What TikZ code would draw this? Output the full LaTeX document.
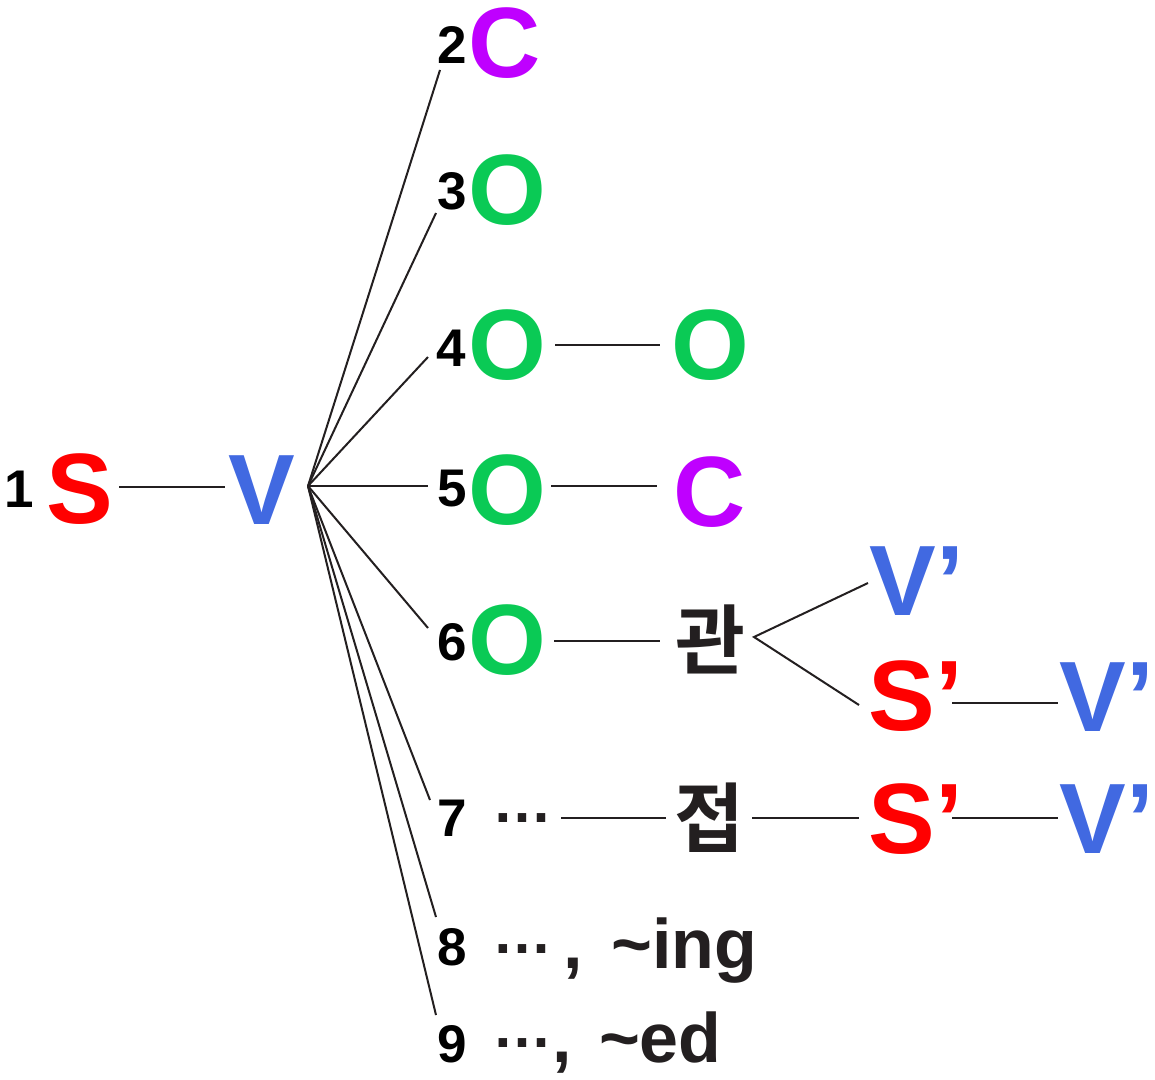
\documentclass[tikz,border=0pt]{standalone}
\usepackage{fontspec}
\setmainfont{Liberation Sans}
\newfontfamily\krfont{Noto Sans CJK KR}[UprightFont=* Bold]
\definecolor{cS}{RGB}{255,0,0}
\definecolor{cV}{RGB}{65,105,225}
\definecolor{cC}{RGB}{191,0,255}
\definecolor{cO}{RGB}{10,202,85}
\definecolor{ink}{RGB}{35,31,32}
\tikzset{
  big/.style={inner sep=0pt, font=\fontsize{100}{100}\selectfont\bfseries},
  letS/.style={big, text=cS},
  letV/.style={big, text=cV},
  letC/.style={big, text=cC},
  letO/.style={big, text=cO},
  num/.style={inner sep=0pt, font=\fontsize{53}{53}\selectfont\bfseries, text=black},
  kor/.style={inner sep=0pt, font=\krfont\fontsize{76}{76}\selectfont, text=ink},
  tail/.style={inner sep=0pt, anchor=base west, font=\fontsize{70}{70}\selectfont\bfseries, text=ink},
  link/.style={line width=2pt, draw=ink},
}
\newcommand{\dotsx}{{\fontsize{60}{60}\selectfont\raisebox{14.5pt}{…}}}
\begin{document}
\begin{tikzpicture}[x=1pt,y=-1pt]
\path[use as bounding box] (0,0) rectangle (1155,1079);
% row 1
\node[num] (n1) at (19,489) {1};
\node[letS] (S) at (80,489) {S};
\node[letV] (V) at (262,490) {V};
\coordinate (sR) at (119,487);
\coordinate (vL) at (225,487);
\draw[link] (sR) -- (vL);
\coordinate (hub) at (308,486);
% numbers
\node[num] (n2) at (452,45) {2};
\node[num] (n3) at (452,191) {3};
\node[num] (n4) at (451,348) {4};
\node[num] (n5) at (452,489) {5};
\node[num] (n6) at (452,642) {6};
\node[num] (n7) at (452,818) {7};
\node[num] (n8) at (452,947) {8};
\node[num] (n9) at (452,1044) {9};
% hub endpoints
\coordinate (e2) at (440,70);
\coordinate (e3) at (436,213);
\coordinate (e4) at (428,357);
\coordinate (e5) at (428,486);
\coordinate (e6) at (428,628);
\coordinate (e7) at (430,800);
\coordinate (e8) at (436,917);
\coordinate (e9) at (436,1015);
\foreach \e in {e2,e3,e4,e5,e6,e7,e8,e9} \draw[link] (hub) -- (\e);
% row 2,3
\node[letC] (C2) at (505,43.5) {C};
\node[letO] (O3) at (507.5,190) {O};
% row 4
\node[letO] (O4) at (507.5,345) {O};
\node[letO] (O4b) at (710,345) {O};
\coordinate (a4) at (555,345);
\coordinate (b4) at (660,345);
\draw[link] (a4) -- (b4);
% row 5
\node[letO] (O5) at (507.5,490) {O};
\node[letC] (C5) at (710,492) {C};
\coordinate (a5) at (551,486);
\coordinate (b5) at (657,486);
\draw[link] (a5) -- (b5);
% row 6
\node[letO] (O6) at (507.5,640) {O};
\node[kor] (gwan) at (710,639) {관};
\coordinate (a6) at (554,641);
\coordinate (b6) at (660,641);
\draw[link] (a6) -- (b6);
\coordinate (br) at (754,637);
\node[letV] (Va) at (917,581.5) {V’};
\node[letS] (Sb) at (916,696) {S’};
\node[letV] (Vb) at (1107,697) {V’};
\coordinate (va) at (868,583);
\coordinate (sb) at (859,705);
\draw[link] (va) -- (br) -- (sb);
\coordinate (a6b) at (952,703);
\coordinate (b6b) at (1058,703);
\draw[link] (a6b) -- (b6b);
% row 7
\node[tail] (t7) at (492,837) {\dotsx};
\node[kor] (jeop) at (709,818) {접};
\node[letS] (Sc) at (916,819) {S’};
\node[letV] (Vc) at (1107,819) {V’};
\coordinate (a7) at (561,818);
\coordinate (b7) at (666,818);
\coordinate (c7) at (752,818);
\coordinate (d7) at (859,818);
\coordinate (f7) at (952,818);
\coordinate (g7) at (1058,818);
\draw[link] (a7) -- (b7);
\draw[link] (c7) -- (d7);
\draw[link] (f7) -- (g7);
% rows 8, 9
\node[tail] (t8) at (492,968) {\dotsx\kern11pt,\kern29pt\symbol{"7E}ing};
\node[tail] (t9) at (492,1062) {\dotsx\kern0pt,\kern27.5pt\symbol{"7E}ed};
\end{tikzpicture}
\end{document}
